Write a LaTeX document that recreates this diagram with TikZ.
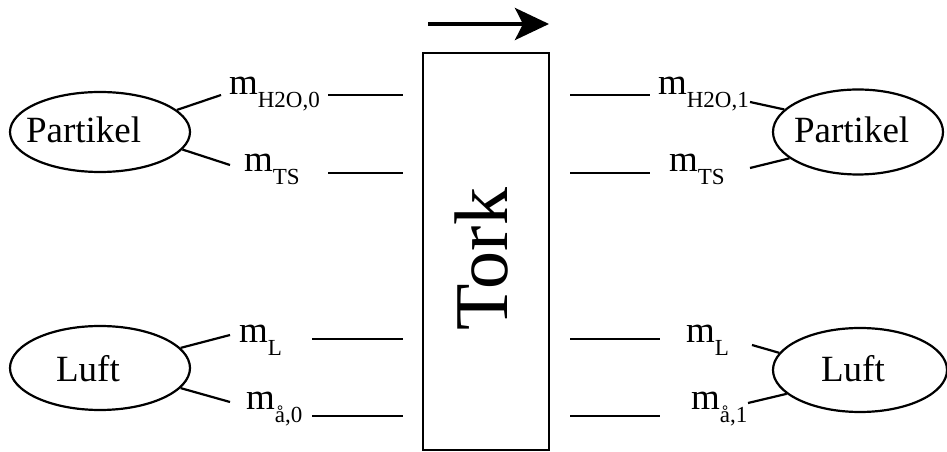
\documentclass[tikz,border=0pt]{standalone}
\usepackage{fontspec}
\setmainfont{Liberation Serif}
\usetikzlibrary{arrows.meta,shapes.geometric}
\newcommand{\msub}[1]{m\raisebox{-13pt}{\fontsize{23}{23}\selectfont #1}}
\begin{document}
\begin{tikzpicture}[x=1pt,y=1pt,line width=2.2pt,
  ell/.style={draw,ellipse,inner sep=0pt},
  txt/.style={anchor=base west,inner sep=0pt,font=\fontsize{37}{40}\selectfont},
  lab/.style={anchor=base west,inner sep=0pt,font=\fontsize{37}{40}\selectfont},
  stub/.style={line width=2.4pt},
  conn/.style={line width=2.2pt}]
\useasboundingbox (0,0) rectangle (947,452);
% box and arrow
\node[draw,line width=2pt,minimum width=126,minimum height=397,inner sep=0pt] (box) at (486,200.5) {};
\node[anchor=base,rotate=90,inner sep=0pt,font=\fontsize{76}{80}\selectfont] (tork) at (507,193) {Tork};
\coordinate (a1) at (428,428);
\coordinate (a2) at (549,428);
\draw[line width=4pt,-{Stealth[length=34pt,width=32pt,inset=8pt]}] (a1) -- (a2);
% ellipses
\node[ell,minimum width=180,minimum height=80] (pl) at (100,320) {};
\node[ell,minimum width=170,minimum height=85] (pr) at (858,320) {};
\node[ell,minimum width=180,minimum height=84] (ll) at (100,84) {};
\node[ell,minimum width=174,minimum height=84] (lr) at (860,82) {};
\node[txt] (tpl) at (25,309) {Partikel};
\node[txt] (tpr) at (793,309) {Partikel};
\node[txt] (tll) at (55,70) {Luft};
\node[txt] (tlr) at (820,70) {Luft};
% labels
\node[lab] (m1) at (228,357) {\msub{H2O,0}};
\node[lab] (m2) at (243,280) {\msub{TS}};
\node[lab] (m3) at (238,109) {\msub{L}};
\node[lab] (m4) at (245,42) {\msub{å,0}};
\node[lab] (n1) at (657,357) {\msub{H2O,1}};
\node[lab] (n2) at (668,280) {\msub{TS}};
\node[lab] (n3) at (685,109) {\msub{L}};
\node[lab] (n4) at (690,42) {\msub{å,1}};
% connector ends
\coordinate (c1) at (221,357);
\coordinate (c2) at (230,287);
\coordinate (c3) at (230,117);
\coordinate (c4) at (230,50);
\coordinate (d1) at (750,350);
\coordinate (d2) at (750,284);
\coordinate (d3) at (752,107);
\coordinate (d4) at (748,49);
\draw[conn] (pl.16) -- (c1);
\draw[conn] (pl.-12) -- (c2);
\draw[conn] (ll.14) -- (c3);
\draw[conn] (ll.-14) -- (c4);
\draw[conn] (pr.163) -- (d1);
\draw[conn] (pr.201) -- (d2);
\draw[conn] (lr.168) -- (d3);
\draw[conn] (lr.198) -- (d4);
% stubs
\coordinate (s1a) at (328,357); \coordinate (s1b) at (403,357);
\coordinate (s2a) at (328,279); \coordinate (s2b) at (403,279);
\coordinate (s3a) at (312,113); \coordinate (s3b) at (403,113);
\coordinate (s4a) at (312,36);  \coordinate (s4b) at (403,36);
\coordinate (r1a) at (570,357); \coordinate (r1b) at (650,357);
\coordinate (r2a) at (570,279); \coordinate (r2b) at (650,279);
\coordinate (r3a) at (570,113); \coordinate (r3b) at (660,113);
\coordinate (r4a) at (570,36);  \coordinate (r4b) at (660,36);
\draw[stub] (s1a) -- (s1b);
\draw[stub] (s2a) -- (s2b);
\draw[stub] (s3a) -- (s3b);
\draw[stub] (s4a) -- (s4b);
\draw[stub] (r1a) -- (r1b);
\draw[stub] (r2a) -- (r2b);
\draw[stub] (r3a) -- (r3b);
\draw[stub] (r4a) -- (r4b);
\end{tikzpicture}
\end{document}
